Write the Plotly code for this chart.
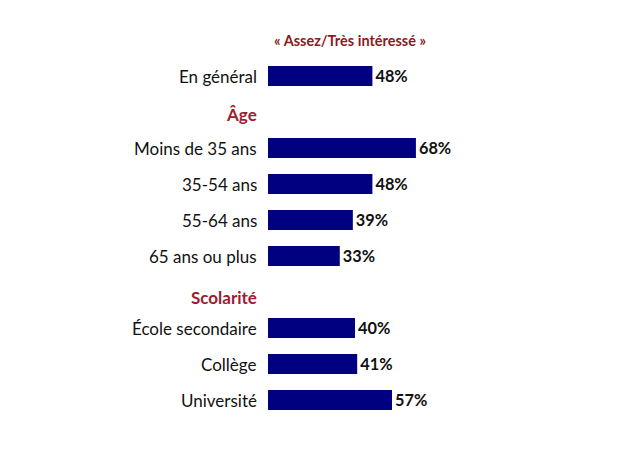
import plotly.graph_objects as go

categories = ["En général", "Moins de 35 ans", "35-54 ans", "55-64 ans", "65 ans ou plus",
              "École secondaire", "Collège", "Université"]
values = [48, 68, 48, 39, 33, 40, 41, 57]
positions = [0, 2, 3, 4, 5, 7, 8, 9]
headers = ["Âge", "Scolarité"]
header_positions = [1.06, 6.14]
title_text = "« Assez/Très intéressé »"

FONT = "Lato, 'Open Sans', sans-serif"
NAVY = "#000080"
RED = "#9e1b32"

fig = go.Figure()
fig.add_trace(go.Bar(
    x=values, y=positions, orientation="h",
    marker=dict(color=NAVY, line=dict(width=0)),
    width=0.56,
    text=[f"<b>{v}%</b>" for v in values],
    textposition="outside",
    textfont=dict(family=FONT, size=17, color="#111111"),
    cliponaxis=False,
    hoverinfo="skip",
))

annotations = []
for c, p in zip(categories, positions):
    annotations.append(dict(x=0, y=p, xref="x", yref="y", text=c, showarrow=False,
                            xanchor="right", yanchor="middle", xshift=-9,
                            font=dict(family=FONT, size=17, color="#111111")))
for h, p in zip(headers, header_positions):
    annotations.append(dict(x=0, y=p, xref="x", yref="y", text=f"<b>{h}</b>", showarrow=False,
                            xanchor="right", yanchor="middle", xshift=-9,
                            font=dict(family=FONT, size=17, color=RED)))
annotations.append(dict(x=37.7, y=-1, xref="x", yref="y", text=f"<b>{title_text}</b>",
                        showarrow=False, xanchor="center", yanchor="middle",
                        font=dict(family=FONT, size=14.5, color="#8b1a22")))

fig.update_layout(
    width=616, height=460,
    margin=dict(l=260, r=16, t=32, b=32),
    paper_bgcolor="white", plot_bgcolor="white",
    showlegend=False,
    annotations=annotations,
    xaxis=dict(range=[0, 156.3], visible=False, fixedrange=True),
    yaxis=dict(range=[10, -1], visible=False, fixedrange=True),
)

fig.write_html("out.html")
